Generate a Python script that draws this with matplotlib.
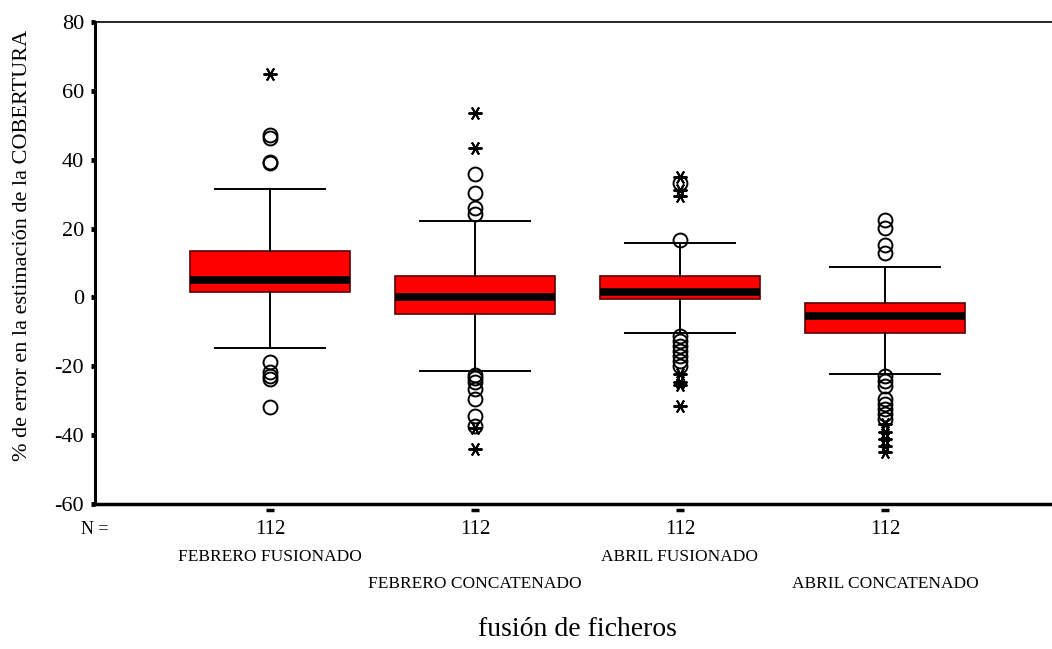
import numpy as np
import matplotlib.pyplot as plt

# values
groups = ['FEBRERO FUSIONADO', 'FEBRERO CONCATENADO', 'ABRIL FUSIONADO', 'ABRIL CONCATENADO']
n_counts = [112, 112, 112, 112]
q1 = [1.7, -4.9, -0.6, -10.4]
medians = [5.2, 0.0, 1.5, -5.5]
q3 = [13.6, 6.1, 6.1, -1.5]
whisk_lo = [-14.8, -21.4, -10.2, -22.3]
whisk_hi = [31.6, 22.3, 15.9, 8.7]
outliers = [
    [47.2, 46.4, 39.4, 39.0, -18.8, -21.8, -22.9, -23.8, -31.9],
    [35.9, 30.4, 26.1, 24.1, -22.6, -23.5, -24.6, -26.7, -29.6, -34.5, -37.4],
    [33.3, 16.8, -11.3, -12.8, -14.2, -15.7, -17.0, -18.6, -20.0],
    [22.6, 20.3, 15.1, 13.0, -22.9, -24.3, -25.8, -29.6, -31.0, -32.4, -33.9, -35.3],
]
extremes = [
    [65.0],
    [53.6, 43.5, -38.0, -44.0],
    [35.0, 31.3, 29.4, -22.3, -24.6, -25.5, -31.5],
    [-36.8, -39.2, -41.1, -43.2, -45.0],
]

plt.rcParams['font.family'] = ['Liberation Serif', 'DejaVu Serif']
plt.rcParams['axes.unicode_minus'] = False

fig = plt.figure(figsize=(10.52, 6.49), dpi=100)
ax = fig.add_axes([95 / 1052, 1 - 504 / 649, 1 - 95 / 1052, (504 - 22) / 649])

pos = np.arange(1, len(groups) + 1)
stats = []
for i in range(len(groups)):
    stats.append(dict(q1=q1[i], med=medians[i], q3=q3[i],
                      whislo=whisk_lo[i], whishi=whisk_hi[i], fliers=outliers[i]))

ax.bxp(stats, positions=pos, widths=0.78, patch_artist=True,
       boxprops=dict(facecolor='#ff0000', edgecolor='#5a0000', linewidth=1.2),
       medianprops=dict(color='black', linewidth=5.5, solid_capstyle='butt'),
       whiskerprops=dict(color='black', linewidth=1.4),
       capprops=dict(color='black', linewidth=1.4),
       capwidths=0.54,
       flierprops=dict(marker='o', markersize=10, markerfacecolor='none',
                       markeredgecolor='black', markeredgewidth=1.4))

# extreme values drawn as asterisks
for i in range(len(groups)):
    ax.plot([pos[i]] * len(extremes[i]), extremes[i], linestyle='none',
            marker=(6, 2, 90), markersize=10, color='black', markeredgewidth=1.4)

ax.set_xlim(0.146, 4.815)
ax.set_ylim(-60, 80)
ax.set_yticks([-60, -40, -20, 0, 20, 40, 60, 80])
ax.tick_params(axis='y', direction='out', length=3, width=3.5, labelsize=16, pad=5)
ax.set_xticks(pos)
ax.set_xticklabels([])
ax.tick_params(axis='x', length=0)

ax.spines['right'].set_visible(False)
ax.spines['left'].set_linewidth(2.2)
ax.spines['bottom'].set_linewidth(2.5)
ax.spines['top'].set_linewidth(1.2)

# small dashes under the axis and the N row
tr = ax.get_xaxis_transform()
for i in range(len(groups)):
    ax.plot([pos[i]], [-0.012], transform=tr, marker='_', markersize=6,
            markeredgewidth=2.5, color='black', clip_on=False)
    ax.text(pos[i], -0.033, str(n_counts[i]), transform=tr, ha='center', va='top', fontsize=15)
ax.text(0.146, -0.035, 'N =', transform=tr, ha='center', va='top', fontsize=13)

for i, g in enumerate(groups):
    y = -0.093 if i % 2 == 0 else -0.15
    ax.text(pos[i], y, g, transform=tr, ha='center', va='top', fontsize=12.5)

ax.set_ylabel('% de error en la estimación de la COBERTURA', fontsize=16)
ax.yaxis.set_label_coords(-0.066, 0.537)
fig.text(577 / 1052, 1 - 630 / 649, 'fusión de ficheros', ha='center', va='center', fontsize=20)

fig.savefig('out.png', dpi=100)
